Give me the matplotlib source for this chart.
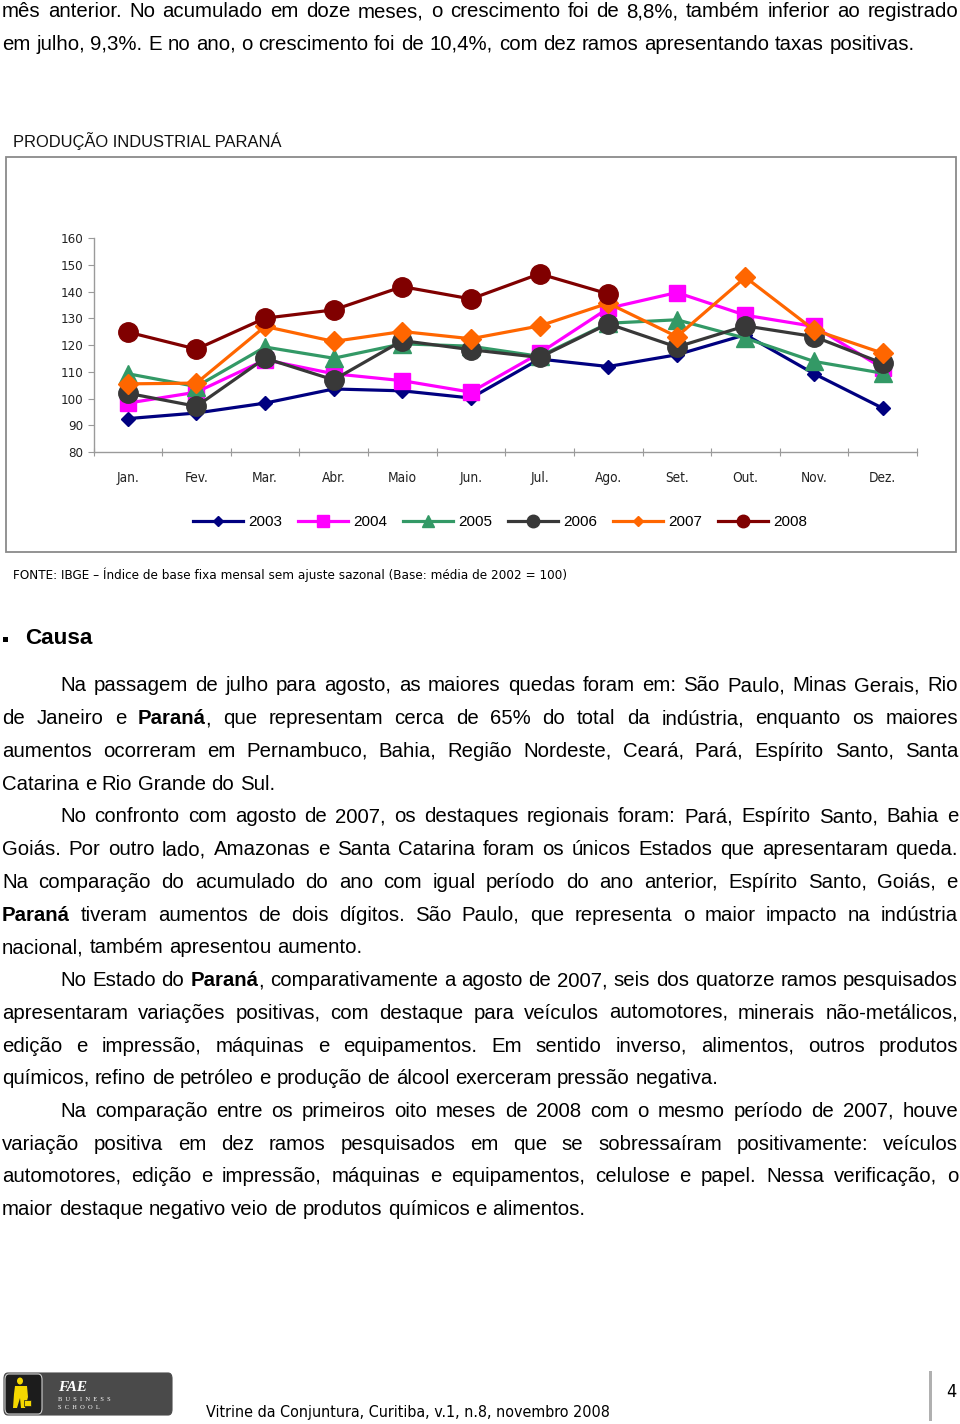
import matplotlib
matplotlib.use('Agg')
import matplotlib.pyplot as plt
from matplotlib import font_manager
from matplotlib.font_manager import FontProperties
from matplotlib.patches import Rectangle, FancyBboxPatch, Ellipse, Polygon
from matplotlib.lines import Line2D

# ---------------- data ----------------
months = ['Jan.', 'Fev.', 'Mar.', 'Abr.', 'Maio', 'Jun.', 'Jul.', 'Ago.', 'Set.', 'Out.', 'Nov.', 'Dez.']
years = ['2003', '2004', '2005', '2006', '2007', '2008']
y2003 = [92.5, 94.6, 98.3, 103.6, 102.9, 100.2, 114.8, 112.0, 116.4, 123.9, 109.3, 96.4]
y2004 = [98.3, 102.4, 114.5, 109.3, 106.7, 102.4, 117.0, 133.8, 139.7, 131.2, 127.0, 111.4]
y2005 = [109.3, 104.5, 119.3, 115.1, 120.5, 119.6, 115.8, 128.2, 129.5, 122.6, 113.9, 109.5]
y2006 = [102.0, 97.1, 115.1, 107.0, 121.7, 118.3, 115.4, 128.0, 119.3, 127.2, 123.2, 113.2]
y2007 = [105.5, 105.8, 127.0, 121.4, 125.1, 122.4, 127.2, 135.7, 123.2, 145.4, 125.7, 117.0]
y2008 = [124.9, 118.5, 130.1, 133.2, 141.9, 137.3, 146.7, 139.2]
yticks = [80, 90, 100, 110, 120, 130, 140, 150, 160]

series = [y2003, y2004, y2005, y2006, y2007, y2008]
colors = ['#000080', '#FF00FF', '#339966', '#383838', '#FF6600', '#800000']
markers = ['D', 's', '^', 'o', 'D', 'o']
msizes = [7.0, 12.0, 12.5, 14.0, 10.5, 14.0]
leg_ms = [5.0, 8.5, 9.0, 9.0, 5.0, 9.0]

W, H = 960, 1424
fig = plt.figure(figsize=(9.6, 14.24), dpi=100)
fig.patch.set_facecolor('white')
renderer = fig.canvas.get_renderer()

ttf = font_manager.fontManager.ttflist
names = {f.name for f in ttf}
SANS = 'Liberation Sans' if 'Liberation Sans' in names else 'DejaVu Sans'
SERIF = 'Liberation Serif' if 'Liberation Serif' in names else 'DejaVu Serif'


def find_narrow():
    cands = []
    for f in ttf:
        fn = f.fname.lower()
        if f.style != 'normal' or f.weight not in (400, 'normal', 'regular'):
            continue
        if 'bold' in fn or 'italic' in fn or 'oblique' in fn:
            continue
        if f.name == 'Liberation Sans Narrow' or 'liberationsansnarrow' in fn.replace('-', ''):
            cands.append((0, f.fname))
        elif 'narrow' in fn or 'condensed' in fn:
            pri = 1 if 'sans' in fn else 2
            if 'mono' in fn or 'serif' in fn.replace('sans', ''):
                pri = 3
            cands.append((pri, f.fname))
    if cands:
        cands.sort()
        return FontProperties(fname=cands[0][1])
    return FontProperties(family=SANS)


NARROW_FP = find_narrow()


def nfp(size):
    fp = NARROW_FP.copy()
    fp.set_size(size)
    return fp


def fx(x):
    return x / W


def fy(y):
    return 1 - y / H


def width_of(t):
    return t.get_window_extent(renderer=renderer).width


def fit_text(x, y, s, target_w, family=None, weight='normal', size0=12, narrow=False, **kw):
    if narrow:
        t = fig.text(fx(x), fy(y), s, fontproperties=nfp(size0), **kw)
    else:
        t = fig.text(fx(x), fy(y), s, family=family, weight=weight, fontsize=size0, **kw)
    w = width_of(t)
    t.set_fontsize(size0 * target_w / w)
    return t


# ---------------- body text helpers ----------------
def parse(line):
    words = []
    new_word = True
    for i, p in enumerate(line.split('**')):
        bold = (i % 2 == 1)
        if p == '':
            continue
        for j, piece in enumerate(p.split(' ')):
            if j > 0:
                new_word = True
            if piece == '':
                continue
            if new_word or not words:
                words.append([(piece, bold)])
            else:
                words[-1].append((piece, bold))
            new_word = False
    return words


cal = fig.text(0, 0, 'em julho, 9,3%. E no ano, o crescimento foi de 10,4%, com dez ramos apresentando taxas positivas.',
               family=SANS, fontsize=14)
BODY = 14 * 915 / width_of(cal)
cal.remove()
SPACE = 0.278 * BODY * 100 / 72


def draw_line(line, x_left, x_right, base_y, justify, size=BODY):
    words = parse(line)
    objs = []
    widths = []
    for w in words:
        segs = []
        tw = 0
        for s, b in w:
            t = fig.text(0, fy(base_y), s, family=SANS, weight='bold' if b else 'normal',
                         fontsize=size, va='baseline', ha='left', color='black')
            sw = width_of(t)
            segs.append((t, sw))
            tw += sw
        objs.append(segs)
        widths.append(tw)
    total = sum(widths)
    if justify and len(words) > 1:
        gap = (x_right - x_left - total) / (len(words) - 1)
    else:
        gap = SPACE
    x = x_left
    for segs, tw in zip(objs, widths):
        xx = x
        for t, sw in segs:
            t.set_x(fx(xx))
            xx += sw
        x += tw + gap


draw_line('mês anterior. No acumulado em doze meses, o crescimento foi de 8,8%, também inferior ao registrado',
          2, 958, 17.3, True)
draw_line('em julho, 9,3%. E no ano, o crescimento foi de 10,4%, com dez ramos apresentando taxas positivas.',
          2, 958, 50.0, False)

# ---------------- chart ----------------
fit_text(13, 146.5, 'PRODUÇÃO INDUSTRIAL PARANÁ', 268, SANS, va='baseline', color='#111111')

fig.patches.append(Rectangle((fx(6), fy(552)), fx(950), 395 / H, transform=fig.transFigure,
                             fill=False, edgecolor='#8a8a8a', linewidth=1.3))

ax = fig.add_axes([fx(93.5), fy(452), fx(917 - 93.5), (452 - 238.3) / H])
ax.set_xlim(0, 12)
ax.set_ylim(80, 160)
for i, (vals, c, m, ms) in enumerate(zip(series, colors, markers, msizes)):
    xs = [k + 0.5 for k in range(len(vals))]
    ax.plot(xs, vals, color=c, marker=m, markersize=ms, linewidth=2.3,
            markeredgecolor=c, markerfacecolor=c, zorder=3 + i, clip_on=False)

for s in ['top', 'right']:
    ax.spines[s].set_visible(False)
for s in ['left', 'bottom']:
    ax.spines[s].set_color('#9a9a9a')
    ax.spines[s].set_linewidth(1.0)
ax.set_yticks(yticks)
ax.set_yticklabels([str(v) for v in yticks], fontproperties=nfp(9.5), color='#222222')
ax.tick_params(axis='y', direction='out', length=4.5, width=0.8, color='#9a9a9a', pad=3)
ax.set_xticks(range(13))
ax.set_xticklabels([])
ax.tick_params(axis='x', which='major', direction='inout', length=6, width=0.8, color='#9a9a9a')
ax.set_xticks([k + 0.5 for k in range(12)], minor=True)
ax.set_xticklabels(months, minor=True, fontproperties=nfp(9.8), color='#222222')
ax.tick_params(axis='x', which='minor', length=0, pad=14)
ax.patch.set_alpha(0)

handles = [Line2D([0], [0], color=c, marker=m, markersize=lm, linewidth=2.3,
                  markeredgecolor=c, markerfacecolor=c)
           for c, m, lm in zip(colors, markers, leg_ms)]
fig.legend(handles, years, loc='center', bbox_to_anchor=(fx(500), fy(522)), ncol=6,
           frameon=False, prop={'family': SANS, 'size': 11}, handlelength=3.3,
           handletextpad=0.35, columnspacing=1.0)

fit_text(13, 578.5, 'FONTE: IBGE – Índice de base fixa mensal sem ajuste sazonal (Base: média de 2002 = 100)',
         555, narrow=True, va='baseline', color='black')

# ---------------- Causa section ----------------
fig.patches.append(Rectangle((fx(3), fy(642)), 5 / W, 5 / H, transform=fig.transFigure,
                             facecolor='black', edgecolor='none'))
fit_text(25, 644.5, 'Causa', 67, SANS, weight='bold', va='baseline', color='black')

body = [
    ('Na passagem de julho para agosto, as maiores quedas foram em: São Paulo, Minas Gerais, Rio', 60, True),
    ('de Janeiro e **Paraná**, que representam cerca de 65% do total da indústria, enquanto os maiores', 2, True),
    ('aumentos ocorreram em Pernambuco, Bahia, Região Nordeste, Ceará, Pará, Espírito Santo, Santa', 2, True),
    ('Catarina e Rio Grande do Sul.', 2, False),
    ('No confronto com agosto de 2007, os destaques regionais foram: Pará, Espírito Santo, Bahia e', 60, True),
    ('Goiás. Por outro lado, Amazonas e Santa Catarina foram os únicos Estados que apresentaram queda.', 2, True),
    ('Na comparação do acumulado do ano com igual período do ano anterior, Espírito Santo, Goiás, e', 2, True),
    ('**Paraná** tiveram aumentos de dois dígitos. São Paulo, que representa o maior impacto na indústria', 2, True),
    ('nacional, também apresentou aumento.', 2, False),
    ('No Estado do **Paraná**, comparativamente a agosto de 2007, seis dos quatorze ramos pesquisados', 60, True),
    ('apresentaram variações positivas, com destaque para veículos automotores, minerais não-metálicos,', 2, True),
    ('edição e impressão, máquinas e equipamentos. Em sentido inverso, alimentos, outros produtos', 2, True),
    ('químicos, refino de petróleo e produção de álcool exerceram pressão negativa.', 2, False),
    ('Na comparação entre os primeiros oito meses de 2008 com o mesmo período de 2007, houve', 60, True),
    ('variação positiva em dez ramos pesquisados em que se sobressaíram positivamente: veículos', 2, True),
    ('automotores, edição e impressão, máquinas e equipamentos, celulose e papel. Nessa verificação, o', 2, True),
    ('maior destaque negativo veio de produtos químicos e alimentos.', 2, False),
]
base0 = 691.5
step = 32.73
for k, (txt, xl, just) in enumerate(body):
    draw_line(txt, xl, 958, base0 + k * step, just)

# ---------------- footer ----------------
fig.patches.append(FancyBboxPatch((fx(4), fy(1415)), 168 / W, 42 / H, transform=fig.transFigure,
                                  boxstyle='round,pad=0,rounding_size=0.004',
                                  facecolor='#4a4a4a', edgecolor='#4a4a4a', linewidth=0.8))
fig.patches.append(FancyBboxPatch((fx(5), fy(1414)), 37 / W, 40 / H, transform=fig.transFigure,
                                  boxstyle='round,pad=0,rounding_size=0.004',
                                  facecolor='#1c1c1c', edgecolor='#cfcfcf', linewidth=0.8))
fig.patches.append(Ellipse((fx(20), fy(1381)), 6 / W, 7 / H, transform=fig.transFigure,
                           facecolor='#f5d800', edgecolor='none'))
fig.patches.append(Polygon([(fx(15), fy(1386)), (fx(27), fy(1386)), (fx(28), fy(1397)),
                            (fx(25), fy(1408)), (fx(21), fy(1408)), (fx(20), fy(1398)),
                            (fx(17), fy(1408)), (fx(13), fy(1408)), (fx(14), fy(1394))],
                           closed=True, transform=fig.transFigure, facecolor='#f5d800', edgecolor='none'))
fig.patches.append(Rectangle((fx(24), fy(1406)), 7 / W, 6 / H, transform=fig.transFigure,
                             facecolor='#f5d800', edgecolor='#1c1c1c', linewidth=0.5))
fig.text(fx(58), fy(1391), 'FAE', family=SERIF, style='italic', weight='bold', fontsize=11,
         color='white', va='baseline')
fig.text(fx(58), fy(1401), 'B  U  S  I  N  E  S  S', family=SERIF, fontsize=4.6, color='white',
         va='baseline')
fig.text(fx(58), fy(1409), 'S  C  H  O  O  L', family=SERIF, fontsize=4.6, color='white',
         va='baseline')

fit_text(206, 1417, 'Vitrine da Conjuntura, Curitiba, v.1, n.8, novembro 2008', 404, narrow=True,
         va='baseline', color='black')
fig.patches.append(Rectangle((fx(929), fy(1421)), 3 / W, 50 / H, transform=fig.transFigure,
                             facecolor='#b0b0b0', edgecolor='none'))
fig.text(fx(951), fy(1397), '4', fontproperties=nfp(13), color='black', va='baseline', ha='center')

fig.savefig('out.png', dpi=100, facecolor='white')
